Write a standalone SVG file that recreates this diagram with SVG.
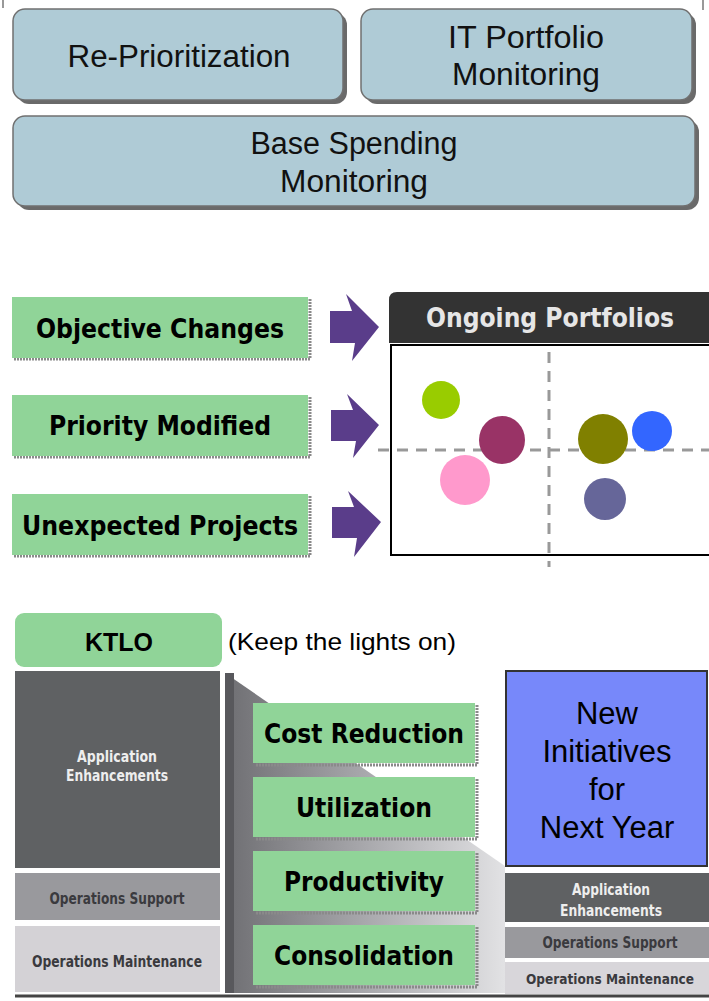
<svg xmlns="http://www.w3.org/2000/svg" width="709" height="1001" viewBox="0 0 709 1001">
<defs>
<style>
.blue{fill:#afcbd6;stroke:#707070;stroke-width:1.5}
.bshadow{fill:#6a6a6a}
.green{fill:#90d498}
.gshadow{fill:none;stroke:#8a8a8a;stroke-width:3;stroke-dasharray:2 1}
.t28{font-family:"Liberation Sans",Arial,sans-serif;font-size:31px;fill:#111;text-anchor:middle}
.tb{font-family:"DejaVu Sans Condensed","DejaVu Sans",Verdana,sans-serif;font-weight:bold;font-size:26px;fill:#000;text-anchor:middle}
.arrow{fill:#5a3d8a}
.dash{stroke:#999;stroke-width:3;stroke-dasharray:11 8;fill:none}
.small{font-family:"DejaVu Sans Condensed","Liberation Sans",Arial,sans-serif;font-weight:bold;font-size:15px;text-anchor:middle}
.big{font-family:"Liberation Sans",Arial,sans-serif;font-size:31px;fill:#000;text-anchor:middle}
</style>
<linearGradient id="slope" x1="0" y1="0" x2="1" y2="0">
<stop offset="0" stop-color="#6e6e72"/>
<stop offset="0.5" stop-color="#a8a8ac"/>
<stop offset="1" stop-color="#e2e2e4"/>
</linearGradient>
</defs>
<rect width="709" height="1001" fill="#fff"/>
<line x1="3" y1="0" x2="3" y2="8" stroke="#999" stroke-width="2"/>
<line x1="703" y1="0" x2="703" y2="10" stroke="#999" stroke-width="2"/>

<g id="connectors">
<polygon class="arrow" points="330,311 352,311 346,294 379,327 352,361 355,343 330,343"/>
<polygon class="arrow" points="331,410 353,410 347,394 379,425 353,458 356,441 331,441"/>
<polygon class="arrow" points="332,507 354,507 348,491 381,522 354,557 357,538 332,538"/>
</g>

<g id="node-reprioritization">
<rect class="bshadow" x="17" y="13" width="330" height="91" rx="12"/>
<rect class="blue" x="13" y="9" width="330" height="91" rx="12"/>
<text class="t28" x="179" y="67" textLength="223" lengthAdjust="spacingAndGlyphs">Re-Prioritization</text>
</g>
<g id="node-it-portfolio">
<rect class="bshadow" x="365" y="13" width="331" height="91" rx="12"/>
<rect class="blue" x="361" y="9" width="331" height="91" rx="12"/>
<text class="t28" x="526" y="48" textLength="156" lengthAdjust="spacingAndGlyphs">IT Portfolio</text>
<text class="t28" x="526" y="85" textLength="148" lengthAdjust="spacingAndGlyphs">Monitoring</text>
</g>
<g id="node-base-spending">
<rect class="bshadow" x="17" y="120" width="682" height="90" rx="12"/>
<rect class="blue" x="13" y="116" width="682" height="90" rx="12"/>
<text class="t28" x="354" y="154" textLength="207" lengthAdjust="spacingAndGlyphs">Base Spending</text>
<text class="t28" x="354" y="192" textLength="148" lengthAdjust="spacingAndGlyphs">Monitoring</text>
</g>

<g id="node-objective-changes">
<polyline class="gshadow" points="310,299 310,359 14,359"/>
<rect class="green" x="12" y="297" width="296" height="61"/>
<text class="tb" x="160" y="338" textLength="248" lengthAdjust="spacingAndGlyphs">Objective Changes</text>
</g>
<g id="node-priority-modified">
<polyline class="gshadow" points="310,397 310,457 14,457"/>
<rect class="green" x="12" y="395" width="296" height="61"/>
<text class="tb" x="160" y="435" textLength="222" lengthAdjust="spacingAndGlyphs">Priority Modified</text>
</g>
<g id="node-unexpected-projects">
<polyline class="gshadow" points="310,496 310,556 14,556"/>
<rect class="green" x="12" y="494" width="296" height="61"/>
<text class="tb" x="160" y="535" textLength="276" lengthAdjust="spacingAndGlyphs">Unexpected Projects</text>
</g>

<g id="node-ongoing-portfolios">
<path d="M389,343 L389,300 Q389,292 397,292 L709,292 L709,343 Z" fill="#333"/>
<text class="tb" x="550" y="327" style="fill:#e6e6e6" textLength="248" lengthAdjust="spacingAndGlyphs">Ongoing Portfolios</text>
<rect x="391" y="345" width="320" height="210" fill="#fff" stroke="#000" stroke-width="2"/>
<line class="dash" x1="378" y1="450" x2="709" y2="450"/>
<line class="dash" x1="549" y1="352" x2="549" y2="567"/>
<ellipse cx="441" cy="400" rx="19" ry="19" fill="#99cc00"/>
<ellipse cx="502" cy="440" rx="23" ry="24" fill="#993366"/>
<ellipse cx="465" cy="480" rx="25" ry="25" fill="#ff99cc"/>
<ellipse cx="603" cy="439" rx="25" ry="25" fill="#808000"/>
<ellipse cx="652" cy="431" rx="20" ry="20" fill="#3366ff"/>
<ellipse cx="605" cy="499" rx="21" ry="21" fill="#666699"/>
</g>

<g id="node-ktlo">
<rect class="green" x="15" y="613" width="207" height="54" rx="9"/>
<text x="119" y="651" style="font-family:'Liberation Sans',Arial,sans-serif;font-weight:bold;font-size:25px;text-anchor:middle">KTLO</text>
<text x="228" y="650" style="font-family:'Liberation Sans',Arial,sans-serif;font-size:24px" textLength="228" lengthAdjust="spacingAndGlyphs">(Keep the lights on)</text>
</g>

<g id="node-ktlo-stack">
<rect x="15" y="671" width="205" height="197" fill="#5f6163"/>
<text class="small" x="117" y="762" style="fill:#eeeeee" textLength="80" lengthAdjust="spacingAndGlyphs">Application</text>
<text class="small" x="117" y="781" style="fill:#eeeeee" textLength="102" lengthAdjust="spacingAndGlyphs">Enhancements</text>
<rect x="15" y="873" width="205" height="47" fill="#99999d"/>
<text class="small" x="117" y="904" style="fill:#3a3a3e" textLength="135" lengthAdjust="spacingAndGlyphs">Operations Support</text>
<rect x="15" y="926" width="205" height="66" fill="#d4d2d6"/>
<text class="small" x="117" y="967" style="fill:#3a3a3e" textLength="170" lengthAdjust="spacingAndGlyphs">Operations Maintenance</text>
</g>

<g id="node-slope">
<polygon points="225,673 505,866 505,993 225,993" fill="url(#slope)"/>
<rect x="225" y="673" width="9" height="320" fill="#58585c"/>
<line x1="15" y1="996" x2="709" y2="996" stroke="#444" stroke-width="3"/>
</g>

<g id="node-cost-reduction">
<polyline class="gshadow" points="477,705 477,765 255,765"/>
<rect class="green" x="253" y="703" width="222" height="60"/>
<text class="tb" x="364" y="743" textLength="200" lengthAdjust="spacingAndGlyphs">Cost Reduction</text>
</g>
<g id="node-utilization">
<polyline class="gshadow" points="477,779 477,839 255,839"/>
<rect class="green" x="253" y="777" width="222" height="60"/>
<text class="tb" x="364" y="817" textLength="136" lengthAdjust="spacingAndGlyphs">Utilization</text>
</g>
<g id="node-productivity">
<polyline class="gshadow" points="477,853 477,913 255,913"/>
<rect class="green" x="253" y="851" width="222" height="60"/>
<text class="tb" x="364" y="891" textLength="160" lengthAdjust="spacingAndGlyphs">Productivity</text>
</g>
<g id="node-consolidation">
<polyline class="gshadow" points="477,927 477,987 255,987"/>
<rect class="green" x="253" y="925" width="222" height="60"/>
<text class="tb" x="364" y="965" textLength="180" lengthAdjust="spacingAndGlyphs">Consolidation</text>
</g>

<g id="node-new-initiatives">
<rect x="506" y="671" width="201" height="195" fill="#7788fa" stroke="#333" stroke-width="2"/>
<text class="big" x="607" y="724">New</text>
<text class="big" x="607" y="762">Initiatives</text>
<text class="big" x="607" y="800">for</text>
<text class="big" x="607" y="838">Next Year</text>
</g>

<g id="node-next-stack">
<rect x="505" y="873" width="204" height="49" fill="#5f6163"/>
<text class="small" x="611" y="895" style="fill:#eeeeee" textLength="78" lengthAdjust="spacingAndGlyphs">Application</text>
<text class="small" x="611" y="916" style="fill:#eeeeee" textLength="102" lengthAdjust="spacingAndGlyphs">Enhancements</text>
<rect x="505" y="927" width="204" height="31" fill="#99999d"/>
<text class="small" x="610" y="948" style="fill:#3a3a3e" textLength="135" lengthAdjust="spacingAndGlyphs">Operations Support</text>
<rect x="505" y="962" width="204" height="32" fill="#d8d6da"/>
<text class="small" x="610" y="984" style="fill:#3a3a3e;font-size:14px" textLength="168" lengthAdjust="spacingAndGlyphs">Operations Maintenance</text>
</g>
</svg>
